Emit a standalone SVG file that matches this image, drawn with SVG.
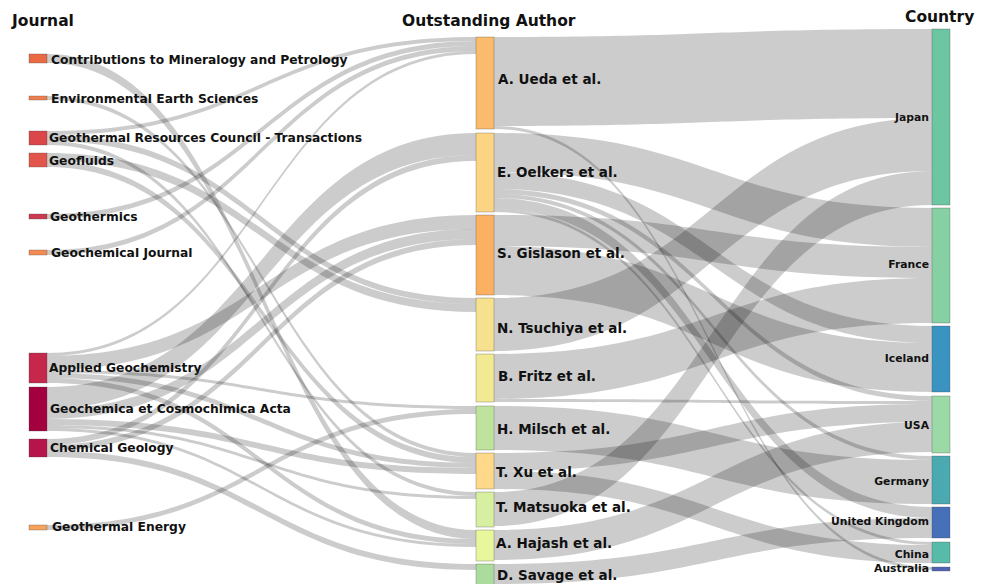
<svg xmlns="http://www.w3.org/2000/svg" width="986" height="584" viewBox="0 0 986 584">
<style>
.lk{fill:#000;fill-opacity:0.2;stroke:none}
.nd{stroke:#444;stroke-width:0.5;stroke-opacity:0.6}
text{font-family:"DejaVu Sans","Liberation Sans",sans-serif;font-weight:bold;fill:#111}
.hd{font-size:15.5px}
.jl{font-size:12.3px}
.al{font-size:13.5px}
.cl{font-size:10.8px;text-anchor:end}
</style>
<rect width="986" height="584" fill="#fff"/>
<g id="links">
<path class="lk" d="M47,54 C261.5,54 261.5,530 476,530 L476,539 C261.5,539 261.5,63 47,63Z"/>
<path class="lk" d="M47,96 C261.5,96 261.5,453 476,453 L476,457 C261.5,457 261.5,100 47,100Z"/>
<path class="lk" d="M47,131 C261.5,131 261.5,37 476,37 L476,41 C261.5,41 261.5,135 47,135Z"/>
<path class="lk" d="M47,135 C261.5,135 261.5,298 476,298 L476,304 C261.5,304 261.5,141 47,141Z"/>
<path class="lk" d="M47,141 C261.5,141 261.5,492 476,492 L476,496 C261.5,496 261.5,145 47,145Z"/>
<path class="lk" d="M47,153 C261.5,153 261.5,304 476,304 L476,312 C261.5,312 261.5,161 47,161Z"/>
<path class="lk" d="M47,161 C261.5,161 261.5,457 476,457 L476,463 C261.5,463 261.5,167 47,167Z"/>
<path class="lk" d="M47,214 C261.5,214 261.5,41 476,41 L476,46 C261.5,46 261.5,219 47,219Z"/>
<path class="lk" d="M47,250 C261.5,250 261.5,46 476,46 L476,51 C261.5,51 261.5,255 47,255Z"/>
<path class="lk" d="M47,353 C261.5,353 261.5,51 476,51 L476,54 C261.5,54 261.5,356 47,356Z"/>
<path class="lk" d="M47,356 C261.5,356 261.5,215 476,215 L476,229 C261.5,229 261.5,370 47,370Z"/>
<path class="lk" d="M47,370 C261.5,370 261.5,406 476,406 L476,409 C261.5,409 261.5,373 47,373Z"/>
<path class="lk" d="M47,373 C261.5,373 261.5,463 476,463 L476,468 C261.5,468 261.5,378 47,378Z"/>
<path class="lk" d="M47,378 C261.5,378 261.5,539 476,539 L476,544 C261.5,544 261.5,383 47,383Z"/>
<path class="lk" d="M47,387 C261.5,387 261.5,133 476,133 L476,155 C261.5,155 261.5,409 47,409Z"/>
<path class="lk" d="M47,409 C261.5,409 261.5,229 476,229 L476,239 C261.5,239 261.5,419 47,419Z"/>
<path class="lk" d="M47,419 C261.5,419 261.5,468 476,468 L476,474 C261.5,474 261.5,425 47,425Z"/>
<path class="lk" d="M47,425 C261.5,425 261.5,496 476,496 L476,499 C261.5,499 261.5,428 47,428Z"/>
<path class="lk" d="M47,428 C261.5,428 261.5,544 476,544 L476,547 C261.5,547 261.5,431 47,431Z"/>
<path class="lk" d="M47,439 C261.5,439 261.5,155 476,155 L476,161 C261.5,161 261.5,445 47,445Z"/>
<path class="lk" d="M47,445 C261.5,445 261.5,239 476,239 L476,245 C261.5,245 261.5,451 47,451Z"/>
<path class="lk" d="M47,451 C261.5,451 261.5,564 476,564 L476,570 C261.5,570 261.5,457 47,457Z"/>
<path class="lk" d="M47,525 C261.5,525 261.5,409 476,409 L476,414 C261.5,414 261.5,530 47,530Z"/>
<path class="lk" d="M494,37 C713,37 713,29 932,29 L932,118 C713,118 713,126 494,126Z"/>
<path class="lk" d="M494,126 C713,126 713,567 932,567 L932,570 C713,570 713,129 494,129Z"/>
<path class="lk" d="M494,133 C713,133 713,208 932,208 L932,247 C713,247 713,172 494,172Z"/>
<path class="lk" d="M494,172 C713,172 713,326 932,326 L932,343 C713,343 713,189 494,189Z"/>
<path class="lk" d="M494,189 C713,189 713,396 932,396 L932,401 C713,401 713,194 494,194Z"/>
<path class="lk" d="M494,194 C713,194 713,456 932,456 L932,460 C713,460 713,198 494,198Z"/>
<path class="lk" d="M494,198 C713,198 713,507 932,507 L932,518 C713,518 713,209 494,209Z"/>
<path class="lk" d="M494,209 C713,209 713,542 932,542 L932,545 C713,545 713,212 494,212Z"/>
<path class="lk" d="M494,215 C713,215 713,247 932,247 L932,278 C713,278 713,246 494,246Z"/>
<path class="lk" d="M494,246 C713,246 713,343 932,343 L932,392 C713,392 713,295 494,295Z"/>
<path class="lk" d="M494,298 C713,298 713,118 932,118 L932,171 C713,171 713,351 494,351Z"/>
<path class="lk" d="M494,354 C713,354 713,278 932,278 L932,323 C713,323 713,399 494,399Z"/>
<path class="lk" d="M494,399 C713,399 713,401 932,401 L932,404 C713,404 713,402 494,402Z"/>
<path class="lk" d="M494,406 C713,406 713,460 932,460 L932,504 C713,504 713,450 494,450Z"/>
<path class="lk" d="M494,453 C713,453 713,404 932,404 L932,422 C713,422 713,471 494,471Z"/>
<path class="lk" d="M494,471 C713,471 713,545 932,545 L932,563 C713,563 713,489 494,489Z"/>
<path class="lk" d="M494,492 C713,492 713,171 932,171 L932,205 C713,205 713,526 494,526Z"/>
<path class="lk" d="M494,530 C713,530 713,422 932,422 L932,452 C713,452 713,560 494,560Z"/>
<path class="lk" d="M494,564 C713,564 713,518 932,518 L932,538 C713,538 713,584 494,584Z"/>
</g>
<g id="headers">
<text class="hd" x="12" y="25.5">Journal</text>
<text class="hd" x="402" y="25.5">Outstanding Author</text>
<text class="hd" x="905" y="21.5">Country</text>
</g>
<g id="j-contrib"><rect class="nd" x="29" y="54" width="18" height="9" fill="#ea6a43"/><text class="jl" x="51" y="64">Contributions to Mineralogy and Petrology</text></g>
<g id="j-ees"><rect class="nd" x="29" y="96" width="18" height="4" fill="#f07e4c"/><text class="jl" x="51" y="103">Environmental Earth Sciences</text></g>
<g id="j-grc"><rect class="nd" x="29" y="131" width="18" height="14" fill="#db4649"/><text class="jl" x="49" y="142">Geothermal Resources Council - Transactions</text></g>
<g id="j-geofluids"><rect class="nd" x="29" y="153" width="18" height="14" fill="#e2554b"/><text class="jl" x="49" y="164.5">Geofluids</text></g>
<g id="j-geothermics"><rect class="nd" x="29" y="214" width="18" height="5" fill="#cb3a4e"/><text class="jl" x="50" y="221">Geothermics</text></g>
<g id="j-gj"><rect class="nd" x="29" y="250" width="18" height="5" fill="#f48b52"/><text class="jl" x="51" y="257">Geochemical Journal</text></g>
<g id="j-ag"><rect class="nd" x="29" y="353" width="18" height="30" fill="#c5284a"/><text class="jl" x="49" y="371.5">Applied Geochemistry</text></g>
<g id="j-gca"><rect class="nd" x="29" y="387" width="18" height="44" fill="#a30040"/><text class="jl" x="50" y="413">Geochemica et Cosmochimica Acta</text></g>
<g id="j-cg"><rect class="nd" x="29" y="439" width="18" height="18" fill="#b5154a"/><text class="jl" x="50" y="451.5">Chemical Geology</text></g>
<g id="j-ge"><rect class="nd" x="29" y="525" width="18" height="5" fill="#f6a35b"/><text class="jl" x="52" y="531">Geothermal Energy</text></g>
<g id="a-ueda"><rect class="nd" x="476" y="37" width="18" height="92" fill="#fbbb6c"/><text class="al" x="498" y="84">A. Ueda et al.</text></g>
<g id="a-oelkers"><rect class="nd" x="476" y="133" width="18" height="79" fill="#fdd483"/><text class="al" x="497" y="177">E. Oelkers et al.</text></g>
<g id="a-gislason"><rect class="nd" x="476" y="215" width="18" height="80" fill="#fcb162"/><text class="al" x="497" y="258">S. Gislason et al.</text></g>
<g id="a-tsuchiya"><rect class="nd" x="476" y="298" width="18" height="53" fill="#f6e18f"/><text class="al" x="497" y="333">N. Tsuchiya et al.</text></g>
<g id="a-fritz"><rect class="nd" x="476" y="354" width="18" height="48" fill="#f1ea93"/><text class="al" x="498" y="381">B. Fritz et al.</text></g>
<g id="a-milsch"><rect class="nd" x="476" y="406" width="18" height="44" fill="#bfe39c"/><text class="al" x="497" y="434">H. Milsch et al.</text></g>
<g id="a-xu"><rect class="nd" x="476" y="453" width="18" height="36" fill="#fed98a"/><text class="al" x="496" y="477">T. Xu et al.</text></g>
<g id="a-matsuoka"><rect class="nd" x="476" y="492" width="18" height="35" fill="#d7efa0"/><text class="al" x="496" y="512">T. Matsuoka et al.</text></g>
<g id="a-hajash"><rect class="nd" x="476" y="530" width="18" height="31" fill="#e8f69c"/><text class="al" x="496" y="548">A. Hajash et al.</text></g>
<g id="a-savage"><rect class="nd" x="476" y="564" width="18" height="22" fill="#acdc9d"/><text class="al" x="497" y="580">D. Savage et al.</text></g>
<g id="c-japan"><rect class="nd" x="932" y="29" width="18" height="176" fill="#6cc6a2"/><text class="cl" x="929" y="120.5">Japan</text></g>
<g id="c-france"><rect class="nd" x="932" y="208" width="18" height="115" fill="#87d0a3"/><text class="cl" x="929" y="268">France</text></g>
<g id="c-iceland"><rect class="nd" x="932" y="326" width="18" height="66" fill="#3a93c1"/><text class="cl" x="929" y="362">Iceland</text></g>
<g id="c-usa"><rect class="nd" x="932" y="396" width="18" height="57" fill="#9bd9a6"/><text class="cl" x="929" y="428.5">USA</text></g>
<g id="c-germany"><rect class="nd" x="932" y="456" width="18" height="48" fill="#4ba9b1"/><text class="cl" x="929" y="485">Germany</text></g>
<g id="c-uk"><rect class="nd" x="932" y="507" width="18" height="31" fill="#4671b9"/><text class="cl" x="929" y="525">United Kingdom</text></g>
<g id="c-china"><rect class="nd" x="932" y="542" width="18" height="21" fill="#58baa8"/><text class="cl" x="929" y="558">China</text></g>
<g id="c-australia"><rect class="nd" x="932" y="567" width="18" height="4" fill="#5064b3"/><text class="cl" x="929" y="571.5">Australia</text></g>
</svg>
